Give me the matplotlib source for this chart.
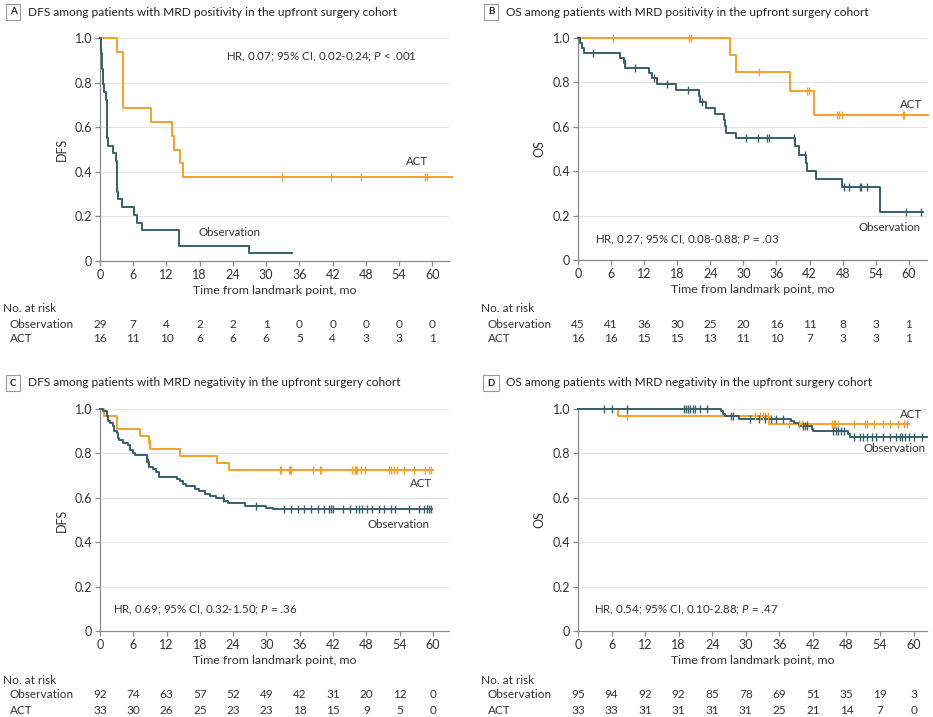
import numpy as np
import matplotlib.pyplot as plt
from matplotlib import transforms

plt.rcParams['font.family'] = ['Lato', 'DejaVu Sans']
plt.rcParams['mathtext.fontset'] = 'custom'
plt.rcParams['mathtext.it'] = 'Lato:italic'
plt.rcParams['mathtext.rm'] = 'Lato'

orange = '#F5A02C'
teal = '#36606C'
grey_txt = '#333333'

months = [0, 6, 12, 18, 24, 30, 36, 42, 48, 54, 60]

# A: DFS, MRD positive
a_obs_t = [0, 0.2, 0.4, 0.6, 0.8, 1.0, 1.3, 1.5, 2.4, 2.9, 3.1, 3.3, 3.9, 6.1, 6.6, 7.6, 14.2, 26.9, 34.6]
a_obs_s = [1.0, 0.931, 0.862, 0.793, 0.759, 0.724, 0.552, 0.517, 0.483, 0.448, 0.310, 0.276, 0.241,
           0.207, 0.172, 0.138, 0.069, 0.034, 0.034]
a_obs_c = []
a_act_t = [0, 3.0, 4.1, 9.2, 13.0, 13.3, 14.4, 14.9, 63.5]
a_act_s = [1.0, 0.9375, 0.6875, 0.625, 0.5625, 0.5, 0.4375, 0.375, 0.375]
a_act_c = [32.8, 41.7, 47.1, 58.7, 59.0]
a_risk_obs = [29, 7, 4, 2, 2, 1, 0, 0, 0, 0, 0]
a_risk_act = [16, 11, 10, 6, 6, 6, 5, 4, 3, 3, 1]

# B: OS, MRD positive
b_obs_t = [0, 0.4, 0.7, 1.1, 7.7, 8.3, 8.6, 12.8, 13.4, 14.3, 17.8, 21.9, 22.2, 23.3, 24.8, 26.4,
           26.7, 26.9, 28.7, 39.4, 40.0, 41.4, 41.6, 43.1, 47.9, 54.7, 62.6]
b_obs_s = [1.0, 0.978, 0.956, 0.933, 0.911, 0.889, 0.867, 0.843, 0.819, 0.795, 0.767, 0.739, 0.711,
           0.685, 0.657, 0.630, 0.602, 0.573, 0.548, 0.512, 0.475, 0.438, 0.400, 0.363, 0.327, 0.218, 0.218]
b_obs_c = [2.7, 8.5, 10.3, 13.8, 16.1, 20.0, 22.4, 30.5, 32.7, 34.3, 34.7, 39.1, 41.1, 48.2, 49.2,
           51.1, 51.4, 52.4, 59.5, 62.3]
b_act_t = [0, 27.5, 28.6, 38.5, 42.8, 63.5]
b_act_s = [1.0, 0.923, 0.846, 0.762, 0.653, 0.653]
b_act_c = [6.4, 20.2, 20.5, 32.9, 41.6, 41.9, 47.0, 47.3, 47.9, 59.0, 59.2]
b_risk_obs = [45, 41, 36, 30, 25, 20, 16, 11, 8, 3, 1]
b_risk_act = [16, 16, 15, 15, 13, 11, 10, 7, 3, 3, 1]

# C: DFS, MRD negative
c_obs_t = [0, 0.6, 1.2, 1.5, 1.8, 2.3, 2.6, 3.0, 3.3, 3.5, 4.2, 5.1, 5.4, 5.9, 6.3, 8.5, 8.8, 9.6,
           10.1, 10.7, 13.9, 14.4, 14.9, 15.5, 17.1, 17.9, 18.9, 19.8, 20.9, 22.3, 23.1, 26.1, 30.0, 31.2, 59.8]
c_obs_s = [1.0, 0.989, 0.967, 0.946, 0.935, 0.924, 0.902, 0.891, 0.870, 0.859, 0.848, 0.837, 0.815,
           0.804, 0.793, 0.761, 0.739, 0.728, 0.717, 0.695, 0.685, 0.674, 0.663, 0.652, 0.641, 0.630,
           0.619, 0.609, 0.598, 0.587, 0.576, 0.565, 0.554, 0.549, 0.549]
c_obs_c = [8.7, 22.1, 28.1, 33.1, 34.5, 35.6, 36.8, 38.0, 39.2, 40.4, 41.2, 41.6, 42.0, 43.8, 45.0,
           46.2, 46.6, 47.3, 48.2, 49.0, 50.2, 51.2, 52.5, 53.1, 55.7, 57.5, 58.4, 58.9, 59.3, 59.6]
c_act_t = [0, 0.8, 3.1, 7.2, 8.9, 9.1, 14.4, 21.1, 23.3, 60.0]
c_act_s = [1.0, 0.970, 0.909, 0.879, 0.848, 0.818, 0.787, 0.755, 0.724, 0.724]
c_act_c = [9.0, 32.4, 32.7, 34.1, 34.3, 34.5, 38.4, 39.6, 39.8, 45.5, 46.0, 46.2, 46.4, 47.0, 47.7,
           52.1, 52.5, 53.0, 53.5, 54.8, 56.6, 58.5, 59.3, 59.7]
c_risk_obs = [92, 74, 63, 57, 52, 49, 42, 31, 20, 12, 0]
c_risk_act = [33, 30, 26, 25, 23, 23, 18, 15, 9, 5, 0]

# D: OS, MRD negative
d_obs_t = [0, 25.6, 26.0, 26.3, 28.7, 38.0, 38.6, 39.5, 41.8, 42.1, 48.3, 48.7, 62.4]
d_obs_s = [1.0, 0.989, 0.979, 0.968, 0.957, 0.946, 0.935, 0.922, 0.910, 0.899, 0.888, 0.876, 0.876]
d_obs_c = [4.6, 6.1, 8.8, 18.9, 19.3, 19.6, 20.0, 20.5, 21.0, 21.9, 23.1, 27.3, 27.7, 30.8, 32.4,
           33.4, 34.5, 35.4, 36.6, 40.3, 40.6, 40.9, 45.6, 46.2, 46.5, 47.0, 47.5, 49.3, 50.4, 51.0,
           51.7, 52.5, 53.3, 54.6, 55.8, 56.8, 57.5, 58.0, 58.5, 59.2, 60.0, 61.5]
d_act_t = [0, 7.2, 34.2, 59.1]
d_act_s = [1.0, 0.970, 0.932, 0.932]
d_act_c = [8.8, 31.7, 32.6, 33.1, 33.5, 34.0, 37.7, 39.5, 40.0, 41.0, 45.4, 45.8, 46.0, 46.4, 49.3,
           51.4, 51.7, 52.9, 54.6, 55.8, 57.3, 58.2, 58.8]
d_risk_obs = [95, 94, 92, 92, 85, 78, 69, 51, 35, 19, 3]
d_risk_act = [33, 33, 31, 31, 31, 31, 25, 21, 14, 7, 0]

W, H = 933, 717
fig = plt.figure(figsize=(W / 100, H / 100), dpi=100)


def fy(py):
    return 1 - py / H


def fx(px):
    return px / W


def step_value(t, s, c):
    i = np.searchsorted(t, c, side='right') - 1
    return s[i]


def km(ax, t, s, cens, color):
    ax.step(t, s, where='post', color=color, lw=1.4, clip_on=False, zorder=3)
    if cens:
        ys = [step_value(t, s, c) for c in cens]
        ax.plot(cens, ys, ls='none', marker='|', ms=5.5, mew=1, color=color, clip_on=False, zorder=4)


panels = [
    dict(letter='A', title='DFS among patients with MRD positivity in the upfront surgery cohort',
         ylab='DFS', left=100, top=38, bottom=261, xmax=63.0,
         obs=(a_obs_t, a_obs_s, a_obs_c), act=(a_act_t, a_act_s, a_act_c),
         risk=(a_risk_obs, a_risk_act), hr='HR, 0.07; 95% CI, 0.02-0.24; $\\mathit{P}$ < .001',
         hr_xy=(22.7, 0.913),
         act_lab=(59.3, 0.445), obs_lab=(23.4, 0.13, 'center'), ytitle=12, yrisk=(308, 324, 338)),
    dict(letter='B', title='OS among patients with MRD positivity in the upfront surgery cohort',
         ylab='OS', left=578, top=38, bottom=260, xmax=63.3,
         obs=(b_obs_t, b_obs_s, b_obs_c), act=(b_act_t, b_act_s, b_act_c),
         risk=(b_risk_obs, b_risk_act), hr='HR, 0.27; 95% CI, 0.08-0.88; $\\mathit{P}$ = .03',
         hr_xy=(3.1, 0.09),
         act_lab=(62.4, 0.70), obs_lab=(62.1, 0.146, 'right'), ytitle=12, yrisk=(308, 324, 338)),
    dict(letter='C', title='DFS among patients with MRD negativity in the upfront surgery cohort',
         ylab='DFS', left=100, top=409, bottom=631, xmax=62.9,
         obs=(c_obs_t, c_obs_s, c_obs_c), act=(c_act_t, c_act_s, c_act_c),
         risk=(c_risk_obs, c_risk_act), hr='HR, 0.69; 95% CI, 0.32-1.50; $\\mathit{P}$ = .36',
         hr_xy=(2.4, 0.092),
         act_lab=(59.8, 0.663), obs_lab=(59.4, 0.478, 'right'), ytitle=383, yrisk=(680, 695, 710)),
    dict(letter='D', title='OS among patients with MRD negativity in the upfront surgery cohort',
         ylab='OS', left=578, top=409, bottom=631, xmax=62.4,
         obs=(d_obs_t, d_obs_s, d_obs_c), act=(d_act_t, d_act_s, d_act_c),
         risk=(d_risk_obs, d_risk_act), hr='HR, 0.54; 95% CI, 0.10-2.88; $\\mathit{P}$ = .47',
         hr_xy=(2.8, 0.092),
         act_lab=(61.5, 0.975), obs_lab=(62.1, 0.824, 'right'), ytitle=383, yrisk=(680, 695, 710)),
]

for p in panels:
    width = 349
    ax = fig.add_axes([fx(p['left']), fy(p['bottom']), fx(width), (p['bottom'] - p['top']) / H])
    ax.set_xlim(0, p['xmax'])
    ax.set_ylim(0, 1.0)
    ax.set_xticks(months)
    ax.set_yticks([0, 0.2, 0.4, 0.6, 0.8, 1.0])
    ax.set_yticklabels(['0', '0.2', '0.4', '0.6', '0.8', '1.0'])
    for y in [0.2, 0.4, 0.6, 0.8, 1.0]:
        ax.axhline(y, color='#e3e3e3', lw=0.8, zorder=1)
    for side in ['top', 'right']:
        ax.spines[side].set_visible(False)
    for side in ['left', 'bottom']:
        ax.spines[side].set_color('#8a8a8a')
        ax.spines[side].set_linewidth(0.9)
    ax.tick_params(colors='#8a8a8a', labelcolor=grey_txt, labelsize=9, length=3.5, width=0.9, pad=2)
    ax.set_xlabel('Time from landmark point, mo', fontsize=8.9, color=grey_txt, labelpad=3)
    ax.set_ylabel(p['ylab'], fontsize=9, color=grey_txt, labelpad=5)

    km(ax, *p['act'], orange)
    km(ax, *p['obs'], teal)

    ax.text(p['hr_xy'][0], p['hr_xy'][1], p['hr'], fontsize=8.3, color=grey_txt,
            ha='left', va='center')
    ax.text(p['act_lab'][0], p['act_lab'][1], 'ACT', fontsize=8.3, color=grey_txt, ha='right', va='center')
    ax.text(p['obs_lab'][0], p['obs_lab'][1], 'Observation', fontsize=8.3, color=grey_txt,
            ha=p['obs_lab'][2], va='center')

    # title with boxed panel letter
    x0 = p['left'] - 95
    fig.text(fx(x0 + 8), fy(p['ytitle']), p['letter'], fontsize=7, fontweight='bold', color='#222222',
             ha='center', va='center',
             bbox=dict(boxstyle='square,pad=0.4', fc='white', ec='#999999', lw=0.8))
    fig.text(fx(x0 + 23), fy(p['ytitle']), p['title'], fontsize=8.6, color='#222222', ha='left', va='center')

    # number at risk table
    trans = transforms.blended_transform_factory(ax.transData, fig.transFigure)
    y_hdr, y_obs, y_act = p['yrisk']
    fig.text(fx(x0 - 2), fy(y_hdr), 'No. at risk', fontsize=8.5, color=grey_txt, ha='left', va='center')
    fig.text(fx(x0 + 5), fy(y_obs), 'Observation', fontsize=8.5, color=grey_txt, ha='left', va='center')
    fig.text(fx(x0 + 5), fy(y_act), 'ACT', fontsize=8.5, color=grey_txt, ha='left', va='center')
    for m, n_obs, n_act in zip(months, p['risk'][0], p['risk'][1]):
        ax.text(m, fy(y_obs), str(n_obs), transform=trans, fontsize=8.5, color=grey_txt,
                ha='center', va='center', clip_on=False)
        ax.text(m, fy(y_act), str(n_act), transform=trans, fontsize=8.5, color=grey_txt,
                ha='center', va='center', clip_on=False)

fig.savefig('out.png', dpi=100)
